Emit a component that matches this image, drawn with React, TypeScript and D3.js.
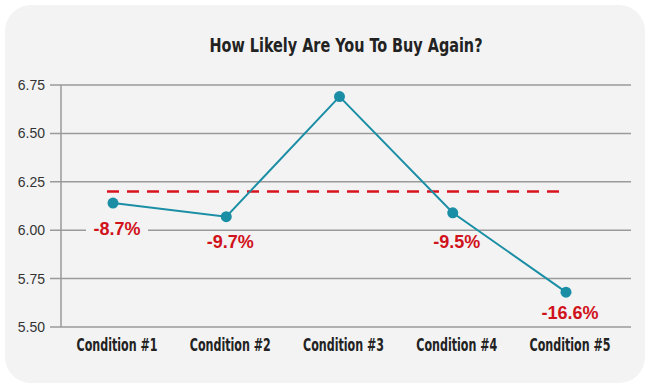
import * as React from 'react';
import * as d3 from 'd3';

const WIDTH = 650;
const HEIGHT = 389;

const title = 'How Likely Are You To Buy Again?';
const categories = ['Condition #1', 'Condition #2', 'Condition #3', 'Condition #4', 'Condition #5'];
const scores = [6.14, 6.07, 6.69, 6.09, 5.68];
const changeLabels = ['-8.7%', '-9.7%', '', '-9.5%', '-16.6%'];
const benchmark = 6.2;
const yTicks = [5.5, 5.75, 6.0, 6.25, 6.5, 6.75];

const condensed = '"Liberation Sans Narrow", "DejaVu Sans Condensed", "Liberation Sans", sans-serif';
const plain = '"Liberation Sans", Arial, sans-serif';

// label offsets below each dot
const labelDy = [25, 25, 0, 29, 20];

const App = () => {
  const x = d3.scalePoint<string>().domain(categories).range([113, 566]);
  const y = d3.scaleLinear().domain([5.5, 6.75]).range([327, 85]);

  const line = d3
    .line<number>()
    .x((d, i) => x(categories[i]) as number)
    .y(d => y(d));

  const lx = (i: number) => (x(categories[i]) as number) + 4;
  const ly = (i: number) => y(scores[i]) + labelDy[i];

  return (
    <svg
      width={WIDTH}
      height={HEIGHT}
      style={{ position: 'absolute', left: 0, top: 0 }}
    >
      <rect x={0} y={0} width={WIDTH} height={HEIGHT} fill="#ffffff" />
      <rect x={5} y={5} width={640} height={378} rx={26} ry={26} fill="#f3f3f3" />

      <text
        x={346}
        y={52}
        textAnchor="middle"
        fontFamily={condensed}
        fontWeight="bold"
        fontSize={19}
        fill="#222"
        textLength={273}
        lengthAdjust="spacingAndGlyphs"
      >
        {title}
      </text>

      {yTicks.map(t => (
        <g key={t}>
          <line x1={50} x2={631} y1={y(t)} y2={y(t)} stroke="#9a9a9a" strokeWidth={1.5} />
          <text
            x={45}
            y={y(t)}
            dy="0.35em"
            textAnchor="end"
            fontFamily={plain}
            fontSize={14}
            fill="#333"
          >
            {t.toFixed(2)}
          </text>
        </g>
      ))}
      <line x1={61} x2={61} y1={y(6.75)} y2={y(5.5)} stroke="#9a9a9a" strokeWidth={1.5} />

      {changeLabels.map((l, i) =>
        l ? (
          <rect key={i} x={lx(i) - 31} y={ly(i) - 10} width={62} height={20} fill="#f3f3f3" />
        ) : null,
      )}

      <line
        x1={107}
        x2={567}
        y1={y(benchmark)}
        y2={y(benchmark)}
        stroke="#d7141e"
        strokeWidth={2.5}
        strokeDasharray="12 8"
      />

      <path d={line(scores) || ''} fill="none" stroke="#1a8ea5" strokeWidth={2} />
      {scores.map((s, i) => (
        <circle key={i} cx={x(categories[i])} cy={y(s)} r={5.5} fill="#1a8ea5" />
      ))}

      {changeLabels.map((l, i) =>
        l ? (
          <text
            key={i}
            x={lx(i)}
            y={ly(i)}
            dy="0.36em"
            textAnchor="middle"
            fontFamily={plain}
            fontWeight="bold"
            fontSize={18}
            fill="#d0121b"
          >
            {l}
          </text>
        ) : null,
      )}

      {categories.map(c => (
        <text
          key={c}
          x={(x(c) as number) + 4}
          y={345}
          dy="0.35em"
          textAnchor="middle"
          fontFamily={condensed}
          fontWeight="bold"
          fontSize={17}
          fill="#222"
          textLength={81}
          lengthAdjust="spacingAndGlyphs"
        >
          {c}
        </text>
      ))}
    </svg>
  );
};

export default App;
